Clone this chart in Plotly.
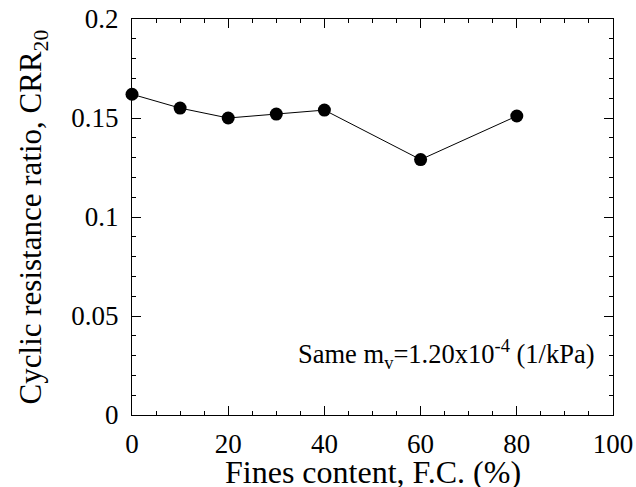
import plotly.graph_objects as go

fines_content = [0, 10, 20, 30, 40, 60, 80]
crr20 = [0.162, 0.155, 0.150, 0.152, 0.154, 0.129, 0.151]

x_ticks = [0, 20, 40, 60, 80, 100]
x_tick_labels = ["0", "20", "40", "60", "80", "100"]
y_ticks = [0, 0.05, 0.1, 0.15, 0.2]
y_tick_labels = ["0", "0.05", "0.1", "0.15", "0.2"]

x_title = "Fines content, F.C. (%)"
y_title = "Cyclic resistance ratio, CRR<sub>20</sub>"
note = "Same m<sub>v</sub>=1.20x10<sup>-4</sup> (1/kPa)"

FONT = "Liberation Serif, Times New Roman, serif"

fig = go.Figure()
fig.add_trace(go.Scatter(
    x=fines_content, y=crr20, mode="lines+markers",
    line=dict(color="black", width=1),
    marker=dict(color="black", size=13, symbol="circle"),
    showlegend=False, cliponaxis=False,
))

axis_common = dict(
    showgrid=False, zeroline=False, showline=True, linecolor="black", linewidth=1,
    mirror="allticks", ticks="inside", ticklen=9, tickcolor="black", tickwidth=1,
    tickfont=dict(family=FONT, size=27, color="black"),
    automargin=False, ticklabeloverflow="allow",
)

fig.update_xaxes(
    range=[0, 100], tickvals=x_ticks, ticktext=x_tick_labels,
    minor=dict(ticks="inside", dtick=5, tick0=0, ticklen=4, tickcolor="black", tickwidth=1, showgrid=False),
    ticklabelstandoff=5,
    **axis_common,
)
fig.update_yaxes(
    range=[0, 0.2], tickvals=y_ticks, ticktext=y_tick_labels,
    minor=dict(ticks="inside", dtick=0.01, tick0=0, ticklen=4, tickcolor="black", tickwidth=1, showgrid=False),
    ticklabelstandoff=7,
    **axis_common,
)

fig.add_annotation(
    x=0.5, y=-0.143, xref="paper", yref="paper", xanchor="center", yanchor="middle",
    text=x_title, showarrow=False,
    font=dict(family=FONT, size=32, color="black"),
)
fig.add_annotation(
    x=-0.205, y=0.5, xref="paper", yref="paper", xanchor="center", yanchor="middle",
    text=y_title, showarrow=False, textangle=-90,
    font=dict(family=FONT, size=31, color="black"),
)
fig.add_annotation(
    x=0.966, y=0.155, xref="paper", yref="paper", xanchor="right", yanchor="middle",
    text=note, showarrow=False,
    font=dict(family=FONT, size=26.5, color="black"),
)

fig.update_layout(
    width=636, height=487,
    margin=dict(l=132, r=23, t=19, b=72),
    paper_bgcolor="white", plot_bgcolor="white",
)

fig.write_html(
    "out.html",
    config={"displayModeBar": False},
    post_script="document.body.style.margin='0';document.body.style.overflow='hidden';",
)
